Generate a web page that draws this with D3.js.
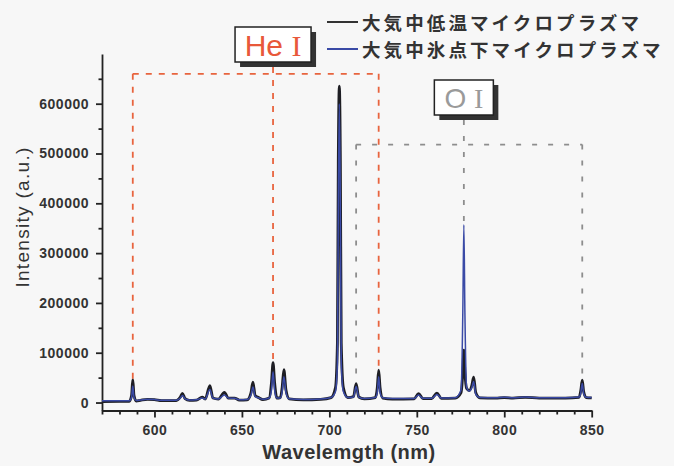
<!DOCTYPE html>
<html><head><meta charset="utf-8">
<script src="https://cdn.jsdelivr.net/npm/d3@7"></script>
<style>
html,body{margin:0;padding:0;background:#f7f7f7;}
svg{display:block;}
</style></head><body>
<svg id="chart" width="674" height="466"></svg>
<script>
// ---- data ----
const wavelengths = [570,580,585.6,586.9,587.6,588.3,589.6,592,596,600,604,612.5,614.8,616,617.5,620,624,627.3,629,631.7,633.4,636.5,640,642.2,645.8,648.5,653,655.2,656.3,657.6,659.5,662,665.6,666.9,667.8,668.7,670,672,673,674,675.2,677,685,695,701,703.5,704.6,705.1,705.7,706.3,706.8,708,710.5,713.8,715.3,716.8,720,726.3,727.4,728.2,729,730.5,736,748.5,751,753.5,758.5,761.5,764,772,775.3,776.3,776.9,777.5,778.5,780,781.5,782.5,783.7,786,795,800,805,812,820,835,842.8,843.8,844.6,845.4,846.8,850];
const lowTempSeries = [2000,2200,2500,14000,46000,14000,3000,4500,6500,6000,4000,4000,11000,18500,8000,4500,5000,11000,7000,34000,9000,7000,20500,9000,9000,5000,5500,20000,41000,14000,10000,6000,9000,40000,80000,40000,9000,10000,30000,66000,25000,7500,5500,6500,10000,30000,120000,480000,635000,480000,120000,30000,10000,12000,38000,11000,7500,10000,30000,65000,30000,9000,7000,7500,18000,8000,8000,19000,8500,9000,20000,60000,105000,60000,28000,24000,35000,51000,20000,9500,9000,10000,9000,10500,9000,9000,10500,25000,45000,22000,10000,9500];
const subZeroSeries = [3500,3500,3500,10000,33000,10000,4000,5000,6500,6000,4500,4500,9000,14000,7500,5000,5500,9000,7000,26000,9000,7000,15000,9000,8500,5500,6000,15000,31000,12000,9500,6500,9000,25000,62000,25000,9000,9000,22000,52000,20000,7500,6000,7000,10000,22000,80000,380000,600000,380000,80000,22000,10000,11000,32000,11000,8000,10000,20000,52000,20000,9500,8000,8000,15000,8500,8500,16000,9000,9500,25000,180000,357000,180000,30000,23000,30000,42000,17000,10000,9500,10500,9500,11000,9500,9500,11000,20000,38000,18000,10500,10000];
const seriesNames = ["大気中低温マイクロプラズマ", "大気中氷点下マイクロプラズマ"];
const xMajorTicks = [600,650,700,750,800,850];
const yMajorTicks = [0,100000,200000,300000,400000,500000,600000];
const heLines = [587.6, 667.8, 728.2];
const heLinePeaks = [46000, 80000, 65000];
const heTop = 660000;
const oLines = [715.3, 776.9, 844.6];
const oLinePeaks = [38000, 357000, 45000];
const oTop = 518000;
const annotationElements = ["He", "O"];
const annotationStages = ["I", "I"];
const xTitle = "Wavelemgth (nm)";
const yTitle = "Intensity (a.u.)";

// ---- drawing ----
const svg = d3.select("#chart");
svg.append("rect").attr("width",674).attr("height",466).attr("fill","#f7f7f7");

const x = d3.scaleLinear().domain([570,850]).range([102,591.7]);
const y = d3.scaleLinear().domain([-16000,700000]).range([410.5,53.9]);

const xMinor = d3.range(570,851,10).filter(v => v % 50 !== 0);
const yMinor = d3.range(50000,700000,100000);

const axisColor = "#222";
const tickFont = "Liberation Sans, Arial, sans-serif";

// x axis
const gx = svg.append("g").attr("transform",`translate(0,${y.range()[0]})`);
gx.call(d3.axisBottom(x).tickValues(xMajorTicks).tickSize(7).tickSizeOuter(0).tickFormat(d3.format("d")));
gx.append("g").call(d3.axisBottom(x).tickValues(xMinor).tickSize(4).tickSizeOuter(0).tickFormat(""))
  .select(".domain").remove();
gx.selectAll("path,line").attr("stroke",axisColor).attr("stroke-width",1.8);
gx.selectAll("text").attr("font-family",tickFont).attr("font-size",14).attr("font-weight","bold")
  .attr("fill","#333").attr("letter-spacing",0.5).attr("dy","1.05em");

// y axis
const gy = svg.append("g").attr("transform",`translate(${x.range()[0]},0)`);
gy.call(d3.axisLeft(y).tickValues(yMajorTicks).tickSize(6).tickSizeOuter(0).tickFormat(d3.format("d")));
gy.append("g").call(d3.axisLeft(y).tickValues(yMinor).tickSize(3.5).tickSizeOuter(0).tickFormat(""))
  .select(".domain").remove();
gy.selectAll("path,line").attr("stroke",axisColor).attr("stroke-width",1.8);
gy.selectAll("text").attr("font-family",tickFont).attr("font-size",14).attr("font-weight","bold")
  .attr("fill","#333").attr("letter-spacing",0.5).attr("x",-13);

// axis titles
svg.append("text").attr("x",349).attr("y",459).attr("text-anchor","middle")
  .attr("font-family",tickFont).attr("font-size",20).attr("font-weight","bold")
  .attr("fill","#333").attr("letter-spacing",0.5).text(xTitle);
svg.append("text").attr("transform","translate(29,217) rotate(-90)").attr("text-anchor","middle")
  .attr("font-family",tickFont).attr("font-size",19).attr("fill","#333")
  .attr("letter-spacing",1.3).text(yTitle);

// spectra
const line = d3.line().x((d,i)=>x(wavelengths[i])).y(d=>y(d)).curve(d3.curveMonotoneX);
const colors = ["#1e1e24", "#3a4aa6"];
svg.append("path").datum(lowTempSeries).attr("d",line).attr("fill","none")
  .attr("stroke",colors[0]).attr("stroke-width",2.8).attr("stroke-linejoin","round");
svg.append("path").datum(subZeroSeries).attr("d",line).attr("fill","none")
  .attr("stroke",colors[1]).attr("stroke-width",1.5).attr("stroke-linejoin","round");

// annotation dashed brackets
function bracket(lines, peaks, top, color, dash, boxBottom){
  const g = svg.append("g").attr("fill","none").attr("stroke",color).attr("stroke-width",1.8)
    .attr("stroke-dasharray",dash);
  g.append("line").attr("x1",x(lines[0])).attr("x2",x(lines[2])).attr("y1",y(top)).attr("y2",y(top));
  lines.forEach((l,i)=>{
    const yTop = i===1 ? boxBottom : y(top);
    g.append("line").attr("x1",x(l)).attr("x2",x(l)).attr("y1",yTop).attr("y2",y(peaks[i]));
  });
}
bracket(heLines, heLinePeaks, heTop, "#e8643e", "6,7", 67);
bracket(oLines, oLinePeaks, oTop, "#8d8d8d", "5,11", 120);

// label boxes
function labelBox(cx, top, w, h, elem, stage, color, fs){
  const left = cx - w/2;
  svg.append("rect").attr("x",left+5).attr("y",top+5).attr("width",w).attr("height",h).attr("fill","#333");
  svg.append("rect").attr("x",left).attr("y",top).attr("width",w).attr("height",h)
    .attr("fill","#fff").attr("stroke","#222").attr("stroke-width",1.5);
  const t = svg.append("text").attr("x",cx).attr("y",top+h/2).attr("text-anchor","middle")
    .attr("dominant-baseline","central").attr("font-size",fs).attr("fill",color);
  t.append("tspan").attr("font-family","Liberation Sans, Arial, sans-serif").text(elem + " ");
  t.append("tspan").attr("font-family","Liberation Serif, DejaVu Serif, serif").text(stage);
}
labelBox(x(heLines[1]), 27, 76, 35, annotationElements[0], annotationStages[0], "#e8583a", 30);
labelBox(x(oLines[1]), 80, 59, 35, annotationElements[1], annotationStages[1], "#9a9a9a", 28);

// legend
const legendY = [22, 49];
seriesNames.forEach((name,i)=>{
  svg.append("line").attr("x1",327).attr("x2",358).attr("y1",legendY[i]).attr("y2",legendY[i])
    .attr("stroke",i===0?"#333":"#3a4aa6").attr("stroke-width",2);
  svg.append("text").attr("x",362).attr("y",legendY[i]).attr("dominant-baseline","central")
    .attr("font-family","Noto Sans CJK JP, sans-serif").attr("font-size",18.5).attr("font-weight","bold")
    .attr("letter-spacing",3.1).attr("fill","#333").text(name);
});
</script>
</body></html>
